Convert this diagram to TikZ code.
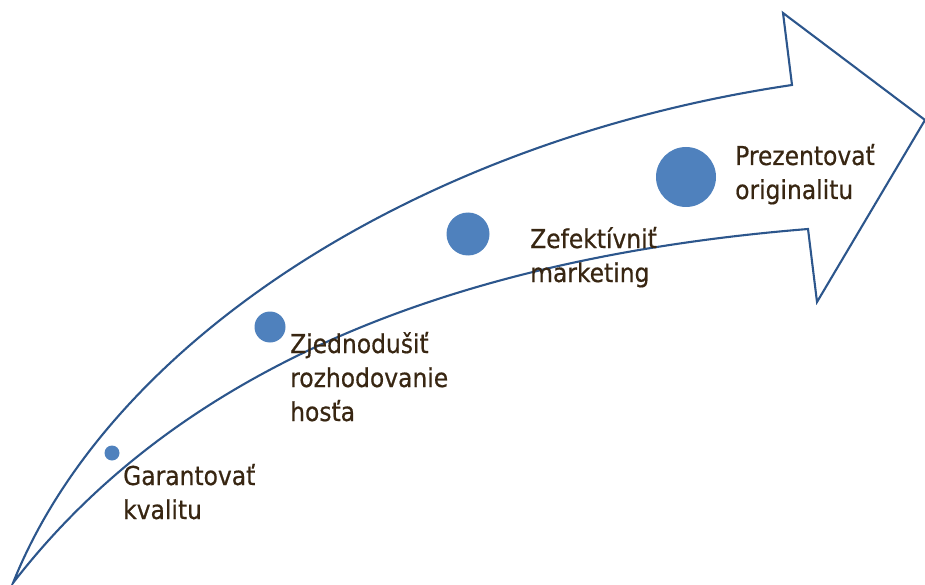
\documentclass[tikz,border=0pt]{standalone}
\usepackage{fontspec}
\setmainfont[FakeStretch=0.9,FakeBold=0.6]{DejaVu Sans}
\definecolor{arrowline}{RGB}{44,86,140}
\definecolor{dotblue}{RGB}{79,129,189}
\definecolor{txtbrown}{RGB}{56,38,18}
\begin{document}
\begin{tikzpicture}[x=1pt,y=-1pt,
  outline/.style={draw=arrowline,line width=2.1pt,line join=miter},
  dot/.style={circle,fill=dotblue,inner sep=0pt,minimum size=#1},
  lbl/.style={anchor=base west,inner sep=0pt,text=txtbrown,font=\fontsize{26}{34}\selectfont}]
\useasboundingbox (0,0) rectangle (925,585);
% arrow
\coordinate (tail) at (13,583);
\coordinate (ushoulder) at (792,85);
\coordinate (ubarb) at (783,13);
\coordinate (tip) at (925,120);
\coordinate (lbarb) at (817,302);
\coordinate (lshoulder) at (808,229);
\draw[outline] (tail) .. controls (110,340) and (420,140) .. (ushoulder)
  -- (ubarb) -- (tip) -- (lbarb) -- (lshoulder)
  .. controls (437,259) and (172,377) .. cycle;
% dots
\node[dot=15pt] (d1) at (112,453) {};
\node[dot=31pt] (d2) at (270,327) {};
\node[dot=43pt] (d3) at (468,234) {};
\node[dot=60pt] (d4) at (686,177) {};
% labels
\node[lbl] (t1) at (123,485) {\vtop{\hbox{Garantovať}\hbox{kvalitu}}};
\node[lbl] (t2) at (290,353) {\vtop{\hbox{Zjednodušiť}\hbox{rozhodovanie}\hbox{hosťa}}};
\node[lbl] (t3) at (530,248) {\vtop{\hbox{Zefektívniť}\hbox{marketing}}};
\node[lbl] (t4) at (735,165) {\vtop{\hbox{Prezentovať}\hbox{originalitu}}};
\end{tikzpicture}
\end{document}
